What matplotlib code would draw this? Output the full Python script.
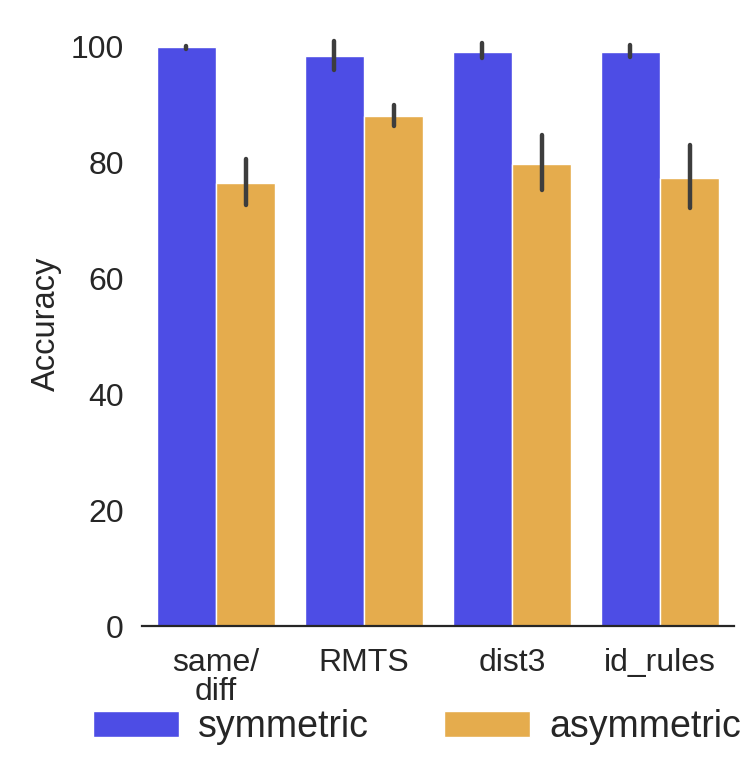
import numpy as np
import matplotlib.pyplot as plt

# datos
tasks = ["same/\ndiff", "RMTS", "dist3", "id_rules"]
conditions = ["symmetric", "asymmetric"]
sym_mean = [100.0, 98.4, 99.1, 99.1]
sym_low = [99.7, 96.0, 98.1, 98.3]
sym_high = [100.2, 101.0, 100.7, 100.3]
asym_mean = [76.5, 88.1, 79.8, 77.4]
asym_low = [72.7, 86.4, 75.3, 72.2]
asym_high = [80.7, 90.0, 84.8, 83.1]

colors = ["#4D4DE5", "#E5AC4D"]

plt.rcParams['font.family'] = ['Liberation Sans', 'DejaVu Sans']

fig = plt.figure(figsize=(7.47, 7.79), dpi=100)
ax = fig.add_axes([0.19, 0.1964, 0.7925, 0.777])

x = np.arange(len(tasks))
width = 0.4
series = [(sym_mean, sym_low, sym_high), (asym_mean, asym_low, asym_high)]
for i, (mean, low, high) in enumerate(series):
    pos = x - width / 2 + i * width
    ax.bar(pos, mean, width, color=colors[i], edgecolor="white", linewidth=1,
           label=conditions[i])
    lc = ax.vlines(pos, low, high, color="#3d3d3d", linewidth=3.2, zorder=3)
    lc.set_capstyle("round")

ax.set_xlim(-0.5, 3.5)
ax.set_ylim(0, 104.5)
ax.set_yticks([0, 20, 40, 60, 80, 100])
ax.set_xticks(x)
ax.set_xticklabels(tasks, linespacing=0.95)
ax.tick_params(axis='both', length=0, labelsize=23, colors="#262626")
ax.tick_params(axis='x', pad=16)
ax.tick_params(axis='y', pad=13)
ax.set_ylabel("Accuracy", fontsize=23.5, color="#262626", labelpad=6)

for s in ["top", "right", "left"]:
    ax.spines[s].set_visible(False)
ax.spines["bottom"].set_color("#262626")
ax.spines["bottom"].set_linewidth(1.6)

fig.legend(loc="center", bbox_to_anchor=(0.558, 0.067), ncol=2, frameon=False,
           fontsize=27, handlelength=2.3, handleheight=0.7, handletextpad=0.5,
           columnspacing=2.0, labelcolor="#262626")

fig.savefig("out.png", dpi=100)
